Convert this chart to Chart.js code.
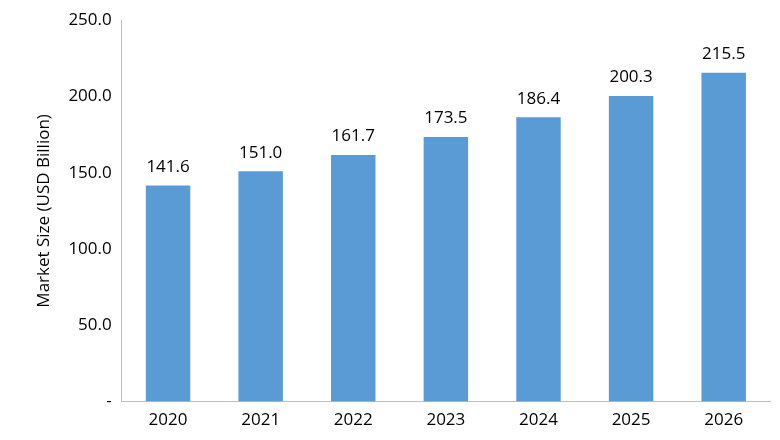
<!DOCTYPE html>
<html>
<head>
<meta charset="utf-8">
<script src="https://cdn.jsdelivr.net/npm/chart.js@4"></script>
<style>
  html, body { margin: 0; padding: 0; background: #fff; }
  #wrap { width: 780px; height: 440px; }
</style>
</head>
<body>
<div id="wrap"><canvas id="chart"></canvas></div>
<script>
const years = ['2020', '2021', '2022', '2023', '2024', '2025', '2026'];
const marketSize = [141.6, 151.0, 161.7, 173.5, 186.4, 200.3, 215.5];

// draws value labels above each bar
const barLabels = {
    id: 'barLabels',
    afterDatasetsDraw(chart) {
        const ctx = chart.ctx;
        const meta = chart.getDatasetMeta(0);
        ctx.save();
        ctx.font = '17px "Open Sans", sans-serif';
        ctx.fillStyle = '#000';
        ctx.textAlign = 'center';
        ctx.textBaseline = 'bottom';
        meta.data.forEach((bar, i) => {
            ctx.fillText(marketSize[i].toFixed(1), bar.x, bar.y - 10);
        });
        ctx.restore();
    }
};

new Chart(document.getElementById('chart'), {
    type: 'bar',
    data: {
        labels: years,
        datasets: [{
            data: marketSize,
            backgroundColor: '#5B9BD5',
            barPercentage: 0.48,
            categoryPercentage: 1.0
        }]
    },
    options: {
        responsive: true,
        maintainAspectRatio: false,
        animation: false,
        layout: { padding: { top: 0, right: 10, left: 30, bottom: 2 } },
        plugins: { legend: { display: false }, tooltip: { enabled: false } },
        scales: {
            y: {
                min: 0,
                max: 250,
                ticks: {
                    stepSize: 50,
                    color: '#000',
                    font: { size: 17, family: '"Open Sans", sans-serif' },
                    padding: 10,
                    callback: v => v === 0 ? '-' : v.toFixed(1)
                },
                grid: { display: false, drawTicks: false },
                border: { color: '#BFBFBF' },
                title: {
                    display: true,
                    text: 'Market Size (USD Billion)',
                    color: '#000',
                    font: { size: 17, family: '"Open Sans", sans-serif' }
                }
            },
            x: {
                ticks: {
                    color: '#000',
                    font: { size: 17, family: '"Open Sans", sans-serif' },
                    padding: 8
                },
                grid: { display: false, drawTicks: false },
                border: { color: '#BFBFBF' }
            }
        }
    },
    plugins: [barLabels]
});
</script>
</body>
</html>
